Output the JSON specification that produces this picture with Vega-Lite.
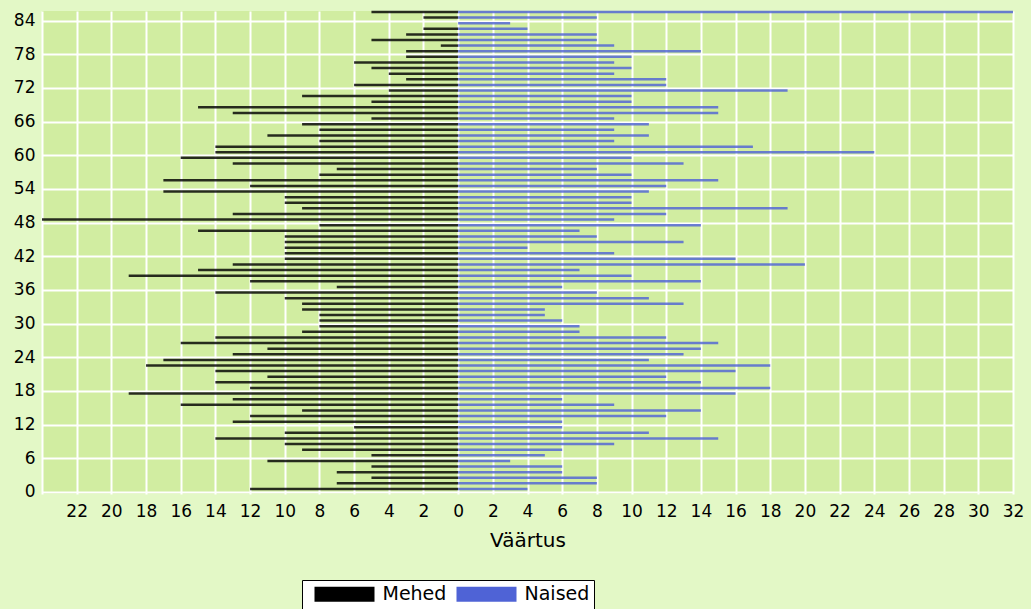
{
  "$schema": "https://vega.github.io/schema/vega-lite/v6.json",
  "width": 971,
  "height": 483,
  "autosize": {"type": "none"},
  "padding": {"left": 42, "top": 11, "right": 18, "bottom": 115},
  "background": "#e3f8c6",
  "view": {"fill": "#d1eda1", "stroke": null},
  "config": {
    "font": "DejaVu Sans",
    "axis": {"labelFont": "DejaVu Sans", "titleFont": "DejaVu Sans"},
    "legend": {"labelFont": "DejaVu Sans"}
  },
  "data": {
    "values": [
      {"age":85,"sex":"Mehed","value":5},{"age":84,"sex":"Mehed","value":2},{"age":83,"sex":"Mehed","value":0},{"age":82,"sex":"Mehed","value":2},{"age":81,"sex":"Mehed","value":3},{"age":80,"sex":"Mehed","value":5},{"age":79,"sex":"Mehed","value":1},{"age":78,"sex":"Mehed","value":3},{"age":77,"sex":"Mehed","value":3},{"age":76,"sex":"Mehed","value":6},{"age":75,"sex":"Mehed","value":5},{"age":74,"sex":"Mehed","value":4},{"age":73,"sex":"Mehed","value":3},{"age":72,"sex":"Mehed","value":6},{"age":71,"sex":"Mehed","value":4},{"age":70,"sex":"Mehed","value":9},{"age":69,"sex":"Mehed","value":5},{"age":68,"sex":"Mehed","value":15},{"age":67,"sex":"Mehed","value":13},{"age":66,"sex":"Mehed","value":5},{"age":65,"sex":"Mehed","value":9},{"age":64,"sex":"Mehed","value":8},{"age":63,"sex":"Mehed","value":11},{"age":62,"sex":"Mehed","value":8},{"age":61,"sex":"Mehed","value":14},{"age":60,"sex":"Mehed","value":14},{"age":59,"sex":"Mehed","value":16},{"age":58,"sex":"Mehed","value":13},{"age":57,"sex":"Mehed","value":7},{"age":56,"sex":"Mehed","value":8},{"age":55,"sex":"Mehed","value":17},{"age":54,"sex":"Mehed","value":12},{"age":53,"sex":"Mehed","value":17},{"age":52,"sex":"Mehed","value":10},{"age":51,"sex":"Mehed","value":10},{"age":50,"sex":"Mehed","value":9},{"age":49,"sex":"Mehed","value":13},{"age":48,"sex":"Mehed","value":24},{"age":47,"sex":"Mehed","value":8},{"age":46,"sex":"Mehed","value":15},{"age":45,"sex":"Mehed","value":10},{"age":44,"sex":"Mehed","value":10},{"age":43,"sex":"Mehed","value":10},{"age":42,"sex":"Mehed","value":10},{"age":41,"sex":"Mehed","value":10},{"age":40,"sex":"Mehed","value":13},{"age":39,"sex":"Mehed","value":15},{"age":38,"sex":"Mehed","value":19},{"age":37,"sex":"Mehed","value":12},{"age":36,"sex":"Mehed","value":7},{"age":35,"sex":"Mehed","value":14},{"age":34,"sex":"Mehed","value":10},{"age":33,"sex":"Mehed","value":9},{"age":32,"sex":"Mehed","value":9},{"age":31,"sex":"Mehed","value":8},{"age":30,"sex":"Mehed","value":8},{"age":29,"sex":"Mehed","value":8},{"age":28,"sex":"Mehed","value":9},{"age":27,"sex":"Mehed","value":14},{"age":26,"sex":"Mehed","value":16},{"age":25,"sex":"Mehed","value":11},{"age":24,"sex":"Mehed","value":13},{"age":23,"sex":"Mehed","value":17},{"age":22,"sex":"Mehed","value":18},{"age":21,"sex":"Mehed","value":14},{"age":20,"sex":"Mehed","value":11},{"age":19,"sex":"Mehed","value":14},{"age":18,"sex":"Mehed","value":12},{"age":17,"sex":"Mehed","value":19},{"age":16,"sex":"Mehed","value":13},{"age":15,"sex":"Mehed","value":16},{"age":14,"sex":"Mehed","value":9},{"age":13,"sex":"Mehed","value":12},{"age":12,"sex":"Mehed","value":13},{"age":11,"sex":"Mehed","value":6},{"age":10,"sex":"Mehed","value":10},{"age":9,"sex":"Mehed","value":14},{"age":8,"sex":"Mehed","value":10},{"age":7,"sex":"Mehed","value":9},{"age":6,"sex":"Mehed","value":5},{"age":5,"sex":"Mehed","value":11},{"age":4,"sex":"Mehed","value":5},{"age":3,"sex":"Mehed","value":7},{"age":2,"sex":"Mehed","value":5},{"age":1,"sex":"Mehed","value":7},{"age":0,"sex":"Mehed","value":12},
      {"age":85,"sex":"Naised","value":32},{"age":84,"sex":"Naised","value":8},{"age":83,"sex":"Naised","value":3},{"age":82,"sex":"Naised","value":4},{"age":81,"sex":"Naised","value":8},{"age":80,"sex":"Naised","value":8},{"age":79,"sex":"Naised","value":9},{"age":78,"sex":"Naised","value":14},{"age":77,"sex":"Naised","value":10},{"age":76,"sex":"Naised","value":9},{"age":75,"sex":"Naised","value":10},{"age":74,"sex":"Naised","value":9},{"age":73,"sex":"Naised","value":12},{"age":72,"sex":"Naised","value":12},{"age":71,"sex":"Naised","value":19},{"age":70,"sex":"Naised","value":10},{"age":69,"sex":"Naised","value":10},{"age":68,"sex":"Naised","value":15},{"age":67,"sex":"Naised","value":15},{"age":66,"sex":"Naised","value":9},{"age":65,"sex":"Naised","value":11},{"age":64,"sex":"Naised","value":9},{"age":63,"sex":"Naised","value":11},{"age":62,"sex":"Naised","value":9},{"age":61,"sex":"Naised","value":17},{"age":60,"sex":"Naised","value":24},{"age":59,"sex":"Naised","value":10},{"age":58,"sex":"Naised","value":13},{"age":57,"sex":"Naised","value":8},{"age":56,"sex":"Naised","value":10},{"age":55,"sex":"Naised","value":15},{"age":54,"sex":"Naised","value":12},{"age":53,"sex":"Naised","value":11},{"age":52,"sex":"Naised","value":10},{"age":51,"sex":"Naised","value":10},{"age":50,"sex":"Naised","value":19},{"age":49,"sex":"Naised","value":12},{"age":48,"sex":"Naised","value":9},{"age":47,"sex":"Naised","value":14},{"age":46,"sex":"Naised","value":7},{"age":45,"sex":"Naised","value":8},{"age":44,"sex":"Naised","value":13},{"age":43,"sex":"Naised","value":4},{"age":42,"sex":"Naised","value":9},{"age":41,"sex":"Naised","value":16},{"age":40,"sex":"Naised","value":20},{"age":39,"sex":"Naised","value":7},{"age":38,"sex":"Naised","value":10},{"age":37,"sex":"Naised","value":14},{"age":36,"sex":"Naised","value":6},{"age":35,"sex":"Naised","value":8},{"age":34,"sex":"Naised","value":11},{"age":33,"sex":"Naised","value":13},{"age":32,"sex":"Naised","value":5},{"age":31,"sex":"Naised","value":5},{"age":30,"sex":"Naised","value":6},{"age":29,"sex":"Naised","value":7},{"age":28,"sex":"Naised","value":7},{"age":27,"sex":"Naised","value":12},{"age":26,"sex":"Naised","value":15},{"age":25,"sex":"Naised","value":14},{"age":24,"sex":"Naised","value":13},{"age":23,"sex":"Naised","value":11},{"age":22,"sex":"Naised","value":18},{"age":21,"sex":"Naised","value":16},{"age":20,"sex":"Naised","value":12},{"age":19,"sex":"Naised","value":14},{"age":18,"sex":"Naised","value":18},{"age":17,"sex":"Naised","value":16},{"age":16,"sex":"Naised","value":6},{"age":15,"sex":"Naised","value":9},{"age":14,"sex":"Naised","value":14},{"age":13,"sex":"Naised","value":12},{"age":12,"sex":"Naised","value":6},{"age":11,"sex":"Naised","value":6},{"age":10,"sex":"Naised","value":11},{"age":9,"sex":"Naised","value":15},{"age":8,"sex":"Naised","value":9},{"age":7,"sex":"Naised","value":6},{"age":6,"sex":"Naised","value":5},{"age":5,"sex":"Naised","value":3},{"age":4,"sex":"Naised","value":6},{"age":3,"sex":"Naised","value":6},{"age":2,"sex":"Naised","value":8},{"age":1,"sex":"Naised","value":8},{"age":0,"sex":"Naised","value":4}
    ]
  },
  "transform": [
    {"calculate": "datum.sex == 'Mehed' ? -datum.value : datum.value", "as": "signed"}
  ],
  "mark": {"type": "bar", "orient": "horizontal", "height": 2.5, "yOffset": -3, "opacity": 0.82},
  "encoding": {
    "y": {
      "field": "age", "type": "quantitative",
      "scale": {"domain": [-0.36, 85.7], "nice": false, "zero": false, "padding": 0},
      "axis": {
        "values": [0, 6, 12, 18, 24, 30, 36, 42, 48, 54, 60, 66, 72, 78, 84],
        "title": null, "grid": true, "gridColor": "#ffffff", "gridWidth": 2, "gridOpacity": 1,
        "ticks": false, "domain": false, "labelFontSize": 17, "labelColor": "#000000", "labelPadding": 7
      }
    },
    "x": {
      "field": "signed", "type": "quantitative", "stack": null,
      "scale": {"domain": [-24, 32], "nice": false, "padding": 0},
      "axis": {
        "values": [-24, -22, -20, -18, -16, -14, -12, -10, -8, -6, -4, -2, 0, 2, 4, 6, 8, 10, 12, 14, 16, 18, 20, 22, 24, 26, 28, 30, 32],
        "labelExpr": "datum.value <= -24 ? '' : format(abs(datum.value), 'd')",
        "title": "Väärtus", "titleFontSize": 20, "titleFontWeight": "normal", "titleColor": "#000000", "titlePadding": 11,
        "grid": true, "gridColor": "#ffffff", "gridWidth": 2, "gridOpacity": 1,
        "ticks": false, "domain": false, "labelFontSize": 17, "labelColor": "#000000", "labelPadding": 9,
        "labelOverlap": false, "labelFlush": false
      }
    },
    "color": {
      "field": "sex", "type": "nominal",
      "scale": {"domain": ["Mehed", "Naised"], "range": ["#000000", "#4f63d6"]},
      "legend": {
        "title": null, "orient": "none", "direction": "horizontal",
        "legendX": 260, "legendY": 569,
        "fillColor": "#ffffff", "strokeColor": "#000000",
        "padding": 4.5,
        "symbolType": "M-4,-1H4V1H-4Z", "symbolSize": 225, "symbolOpacity": 1, "symbolStrokeWidth": 0,
        "symbolOffset": 28.5,
        "labelFontSize": 19, "labelColor": "#000000", "labelOffset": 28.5, "columnPadding": 2
      }
    }
  }
}
